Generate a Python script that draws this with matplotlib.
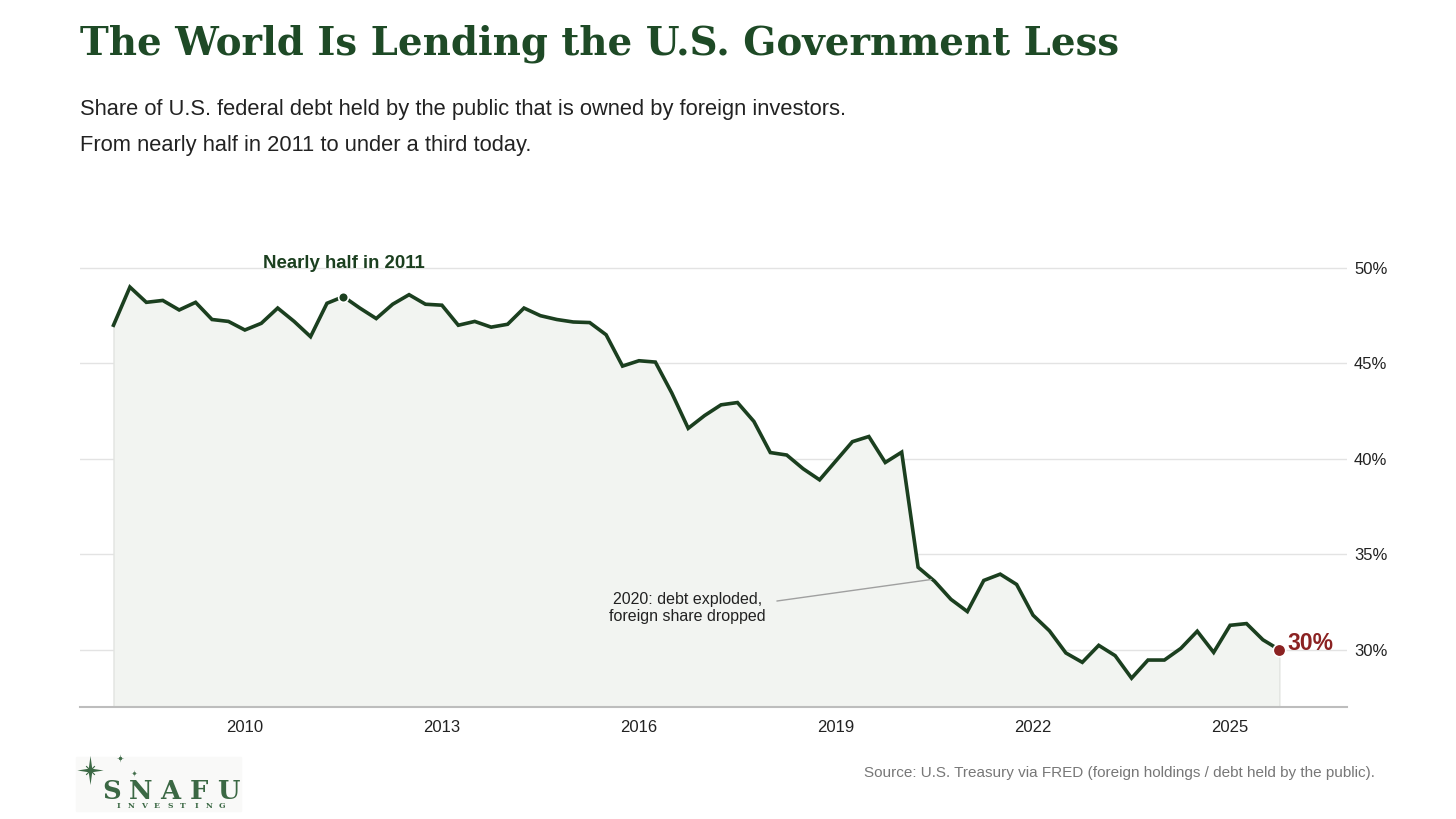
import numpy as np
import pandas as pd
import matplotlib
matplotlib.use("Agg")
import matplotlib.pyplot as plt
from matplotlib.path import Path
from matplotlib.lines import Line2D

# quarterly share of debt held by the public owned by foreign investors (%)
quarters = pd.period_range("2008Q1", "2025Q4", freq="Q")
foreign_share = [
    47.0, 49.0, 48.2, 48.3, 47.8, 48.2, 47.3, 47.2,
    46.75, 47.1, 47.9, 47.2, 46.4, 48.15, 48.5, 47.9,
    47.35, 48.1, 48.6, 48.1, 48.05, 47.0, 47.2, 46.9,
    47.05, 47.9, 47.5, 47.3, 47.17, 47.14, 46.5, 44.86,
    45.14, 45.07, 43.45, 41.6, 42.27, 42.83, 42.95, 41.96,
    40.33, 40.2, 39.48, 38.9, 39.9, 40.9, 41.17, 39.81,
    40.35, 34.32, 33.59, 32.64, 32.0, 33.63, 33.96, 33.42,
    31.81, 30.99, 29.83, 29.34, 30.23, 29.69, 28.51, 29.46,
    29.46, 30.07, 30.97, 29.86, 31.28, 31.37, 30.52, 30.0,
]
x_ticks = [2010, 2013, 2016, 2019, 2022, 2025]
y_ticks = [30, 35, 40, 45, 50]
peak_index = 14      # 2011 Q3
last_label = "30%"

years = np.array([q.year + (q.quarter - 1) / 4 for q in quarters])
vals = np.array(foreign_share)

dark = "#1b3f1f"
title_green = "#1e4a26"
red = "#8b2222"

plt.rcParams["font.family"] = ["Liberation Sans", "DejaVu Sans"]

fig = plt.figure(figsize=(14.56, 8.19), dpi=100)
ax = fig.add_axes([80 / 1456, 112 / 819, 1267 / 1456, 454.3 / 819])

ax.fill_between(years, vals, 27, color="#f2f4f1", edgecolor="#e2e4e1", linewidth=1, zorder=1)
ax.plot(years, vals, color=dark, linewidth=2.6, zorder=3, solid_joinstyle="miter")

ax.set_xlim(2007.49, 2026.78)
ax.set_ylim(27, 50.8)

ax.set_xticks(x_ticks)
ax.set_xticklabels([str(t) for t in x_ticks])
ax.set_yticks(y_ticks)
ax.set_yticklabels([f"{t}%" for t in y_ticks])
ax.yaxis.tick_right()
ax.tick_params(axis="x", length=0, pad=9, labelsize=12, labelcolor="#222222")
ax.tick_params(axis="y", length=0, pad=5, labelsize=12, labelcolor="#222222")
ax.grid(axis="y", color="#e3e3e3", linewidth=1, zorder=0)
ax.set_axisbelow(True)
for side in ["top", "left", "right"]:
    ax.spines[side].set_visible(False)
ax.spines["bottom"].set_color("#bdbdbd")
ax.spines["bottom"].set_linewidth(1.5)

# peak marker
ax.plot(years[peak_index], vals[peak_index], "o", color=dark, markersize=7,
        markeredgecolor="white", markeredgewidth=1.2, zorder=4)
ax.annotate("Nearly half in 2011", (years[peak_index], vals[peak_index]),
            xytext=(0, 24), textcoords="offset points", ha="center", va="center",
            fontsize=13.4, fontweight="bold", color=dark)

# last value
ax.plot(years[-1], vals[-1], "o", color=red, markersize=9,
        markeredgecolor="white", markeredgewidth=1.2, zorder=4)
ax.annotate(last_label, (years[-1], vals[-1]), xytext=(6, 4.5),
            textcoords="offset points", ha="left", va="center",
            fontsize=16.5, fontweight="bold", color=red)

# 2020 note
ax.annotate("2020: debt exploded,\nforeign share dropped", xy=(2020.45, 33.68),
            xytext=(2016.74, 32.2), ha="center", va="center", fontsize=11.5,
            color="#222222", linespacing=1.2,
            arrowprops=dict(arrowstyle="-", color="#a0a0a0", lw=1, relpos=(1.0, 0.66),
                            shrinkA=6, shrinkB=0))

# titles
fig.text(80 / 1456, 1 - 54.5 / 819, "The World Is Lending the U.S. Government Less",
         family="DejaVu Serif", fontweight="bold", fontsize=27.9, color=title_green,
         va="baseline", ha="left")
fig.text(80 / 1456, 1 - 115.3 / 819,
         "Share of U.S. federal debt held by the public that is owned by foreign investors.",
         fontsize=15.75, color="#222222", va="baseline", ha="left")
fig.text(80 / 1456, 1 - 151 / 819, "From nearly half in 2011 to under a third today.",
         fontsize=15.75, color="#222222", va="baseline", ha="left")

fig.text(1375 / 1456, 1 - 773 / 819,
         "Source: U.S. Treasury via FRED (foreign holdings / debt held by the public).",
         fontsize=11, color="#777777", ha="right", va="center")

# logo
logo_green = "#3b6844"
fig.patches.append(plt.Rectangle((76 / 1456, 1 - 811 / 819), 165 / 1456, 54 / 819,
                                 transform=fig.transFigure, color="#f9f9f8", zorder=0))

w = 0.12
spike = Path([(0, 1), (w, w), (0.9, 0), (w, -w), (0, -1), (-w, -w), (-0.9, 0), (-w, w), (0, 1)],
             closed=True)
rays = Path([(-1, -1), (1, 1), (-1, 1), (1, -1)],
            [Path.MOVETO, Path.LINETO, Path.MOVETO, Path.LINETO])
for sx, sy, size in [(90, 770, 21), (120, 758, 6), (134, 772.5, 5)]:
    fx, fy = sx / 1456, 1 - sy / 819
    fig.add_artist(Line2D([fx], [fy], marker=spike, markersize=size, color=logo_green,
                          markeredgewidth=0, transform=fig.transFigure))
    fig.add_artist(Line2D([fx], [fy], marker=rays, markersize=size * 0.3, color=logo_green,
                          markeredgewidth=0.8, markerfacecolor="none",
                          transform=fig.transFigure))

for i, letter in enumerate("SNAFU"):
    fig.text((112 + i * 29) / 1456, 1 - 799 / 819, letter, family="DejaVu Serif",
             fontweight="bold", fontsize=18.5, color=logo_green, ha="center", va="baseline")
for i, letter in enumerate("INVESTING"):
    fig.text((118 + i * 13) / 1456, 1 - 805.5 / 819, letter, family="DejaVu Serif",
             fontweight="bold", fontsize=5.5, color=logo_green, ha="center", va="center")

fig.savefig("out.png", dpi=100)
